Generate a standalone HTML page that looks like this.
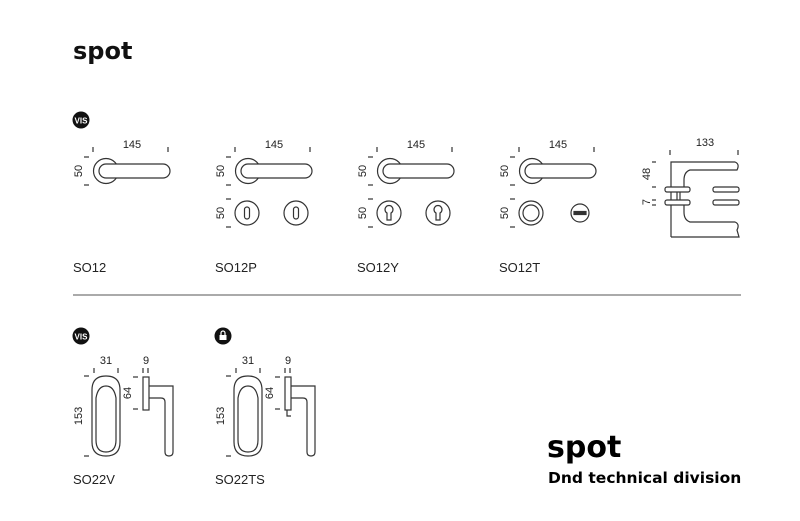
<!DOCTYPE html>
<html><head><meta charset="utf-8"><style>
body{margin:0;background:#fff;width:800px;height:521px;overflow:hidden}
svg{display:block}
text{font-family:"Liberation Sans",Arial,sans-serif;fill:#222}
</style></head><body>
<svg width="800" height="521" viewBox="0 0 800 521" xmlns="http://www.w3.org/2000/svg">
<defs>
<g id="lever" fill="none" stroke="#333" stroke-width="1.2">
  <circle cx="106" cy="171" r="12.5"/>
  <rect x="99" y="164" width="71" height="14" rx="7" fill="#fff"/>
  <line x1="93" y1="147" x2="93" y2="152"/><line x1="168" y1="147" x2="168" y2="152"/>
  <line x1="84" y1="157" x2="89" y2="157"/><line x1="84" y1="185" x2="89" y2="185"/>
</g>
<g id="ticks2" stroke="#333" stroke-width="1.2">
  <line x1="84" y1="199" x2="89" y2="199"/><line x1="84" y1="227" x2="89" y2="227"/>
</g>
<g id="win" fill="none" stroke="#333" stroke-width="1.2">
  <path d="M92,390 Q92,376 106,376 Q120,376 120,390 L120,442 Q120,456 106,456 Q92,456 92,442 Z"/>
  <path d="M96,398 Q98,386 106,386 Q114,386 116,398 L116,440 Q116,452 106,452 Q96,452 96,440 Z"/>
  <line x1="94" y1="368" x2="94" y2="373"/><line x1="118" y1="368" x2="118" y2="373"/>
  <line x1="84" y1="376" x2="89" y2="376"/><line x1="84" y1="456" x2="89" y2="456"/>
  <rect x="143" y="377" width="6" height="33"/>
  <path d="M149,386 L173,386 L173,452 Q173,456 169,456 Q165,456 165,452 L165,402 Q165,398 161,398 L149,398"/>
  <line x1="143" y1="368" x2="143" y2="373"/><line x1="148" y1="368" x2="148" y2="373"/>
  <line x1="133" y1="377" x2="138" y2="377"/><line x1="133" y1="409" x2="138" y2="409"/>
</g>
</defs>
<text x="73" y="59" font-size="24" font-weight="bold" style="font-family:'DejaVu Sans',sans-serif;fill:#111">spot</text>

<circle cx="81" cy="120" r="8.5" fill="#111"/><text x="81" y="123.5" font-size="8" font-weight="bold" text-anchor="middle" style="fill:#fff">VIS</text>

<!-- SO12 -->
<use href="#lever"/>
<text x="132" y="148" font-size="11" text-anchor="middle">145</text>
<text transform="translate(82,171) rotate(-90)" font-size="11" text-anchor="middle">50</text>
<text x="73" y="272" font-size="13">SO12</text>

<g transform="translate(142,0)">
<use href="#lever"/><use href="#ticks2"/>
<text x="132" y="148" font-size="11" text-anchor="middle">145</text>
<text transform="translate(82,171) rotate(-90)" font-size="11" text-anchor="middle">50</text>
<text transform="translate(82,213) rotate(-90)" font-size="11" text-anchor="middle">50</text>
<g fill="none" stroke="#333" stroke-width="1.2">
<circle cx="105" cy="213" r="12"/><rect x="102.5" y="207" width="5" height="12" rx="2.5"/>
<circle cx="154" cy="213" r="12"/><rect x="151.5" y="207" width="5" height="12" rx="2.5"/>
</g>
<text x="73" y="272" font-size="13">SO12P</text>
</g>

<g transform="translate(284,0)">
<use href="#lever"/><use href="#ticks2"/>
<text x="132" y="148" font-size="11" text-anchor="middle">145</text>
<text transform="translate(82,171) rotate(-90)" font-size="11" text-anchor="middle">50</text>
<text transform="translate(82,213) rotate(-90)" font-size="11" text-anchor="middle">50</text>
<g fill="none" stroke="#333" stroke-width="1.2">
<circle cx="105" cy="213" r="12"/><path d="M103,213 A4,4 0 1 1 107,213 L107,220 L103,220 Z"/>
<circle cx="154" cy="213" r="12"/><path d="M152,213 A4,4 0 1 1 156,213 L156,220 L152,220 Z"/>
</g>
<text x="73" y="272" font-size="13">SO12Y</text>
</g>

<g transform="translate(426,0)">
<use href="#lever"/><use href="#ticks2"/>
<text x="132" y="148" font-size="11" text-anchor="middle">145</text>
<text transform="translate(82,171) rotate(-90)" font-size="11" text-anchor="middle">50</text>
<text transform="translate(82,213) rotate(-90)" font-size="11" text-anchor="middle">50</text>
<g fill="none" stroke="#333" stroke-width="1.2">
<circle cx="105" cy="213" r="12"/><circle cx="105" cy="213" r="8"/>
<circle cx="154" cy="213" r="9"/><rect x="148" y="211.5" width="12" height="3" fill="#333"/>
</g>
<text x="73" y="272" font-size="13">SO12T</text>
</g>

<g fill="none" stroke="#333" stroke-width="1.2">
<line x1="670" y1="150" x2="670" y2="155"/><line x1="738" y1="150" x2="738" y2="155"/>
<path d="M671,237 L671,162 L735,162 Q740,164 737,170 L690,170 Q684,172 684,180 L684,187"/>
<path d="M684,205 L684,212 Q684,220 690,222 L735,222 Q740,224 737,230 L739,237 L671,237"/>
<rect x="665" y="187" width="25" height="5" rx="2" fill="#fff"/>
<rect x="665" y="200" width="25" height="5" rx="2" fill="#fff"/>
<line x1="677" y1="192" x2="677" y2="200"/><line x1="680" y1="192" x2="680" y2="200"/>
<rect x="713" y="187" width="26" height="5" rx="2"/>
<rect x="713" y="200" width="26" height="5" rx="2"/>
<line x1="652" y1="162" x2="656" y2="162"/><line x1="652" y1="187" x2="656" y2="187"/>
<line x1="652" y1="200" x2="656" y2="200"/><line x1="652" y1="205" x2="656" y2="205"/>
</g>
<text x="705" y="146" font-size="11" text-anchor="middle">133</text>
<text transform="translate(650,174) rotate(-90)" font-size="11" text-anchor="middle">48</text>
<text transform="translate(650,202) rotate(-90)" font-size="11" text-anchor="middle">7</text>

<line x1="73" y1="295" x2="741" y2="295" stroke="#555" stroke-width="1"/>

<circle cx="81" cy="336" r="8.5" fill="#111"/><text x="81" y="339.5" font-size="8" font-weight="bold" text-anchor="middle" style="fill:#fff">VIS</text>
<use href="#win"/>
<text x="106" y="364" font-size="11" text-anchor="middle">31</text>
<text x="146" y="364" font-size="11" text-anchor="middle">9</text>
<text transform="translate(82,416) rotate(-90)" font-size="11" text-anchor="middle">153</text>
<text transform="translate(131,393) rotate(-90)" font-size="11" text-anchor="middle">64</text>
<text x="73" y="484" font-size="13">SO22V</text>

<g transform="translate(142,0)">
<circle cx="81" cy="336" r="8.5" fill="#111"/>
<rect x="77.5" y="335" width="7" height="5" fill="#fff"/><path d="M79,335 V333 A2,2 0 0 1 83,333 V335" fill="none" stroke="#fff" stroke-width="1.2"/>
<use href="#win"/>
<path d="M145,410 L145,416 L149,416" fill="none" stroke="#333" stroke-width="1.2"/>
<text x="106" y="364" font-size="11" text-anchor="middle">31</text>
<text x="146" y="364" font-size="11" text-anchor="middle">9</text>
<text transform="translate(82,416) rotate(-90)" font-size="11" text-anchor="middle">153</text>
<text transform="translate(131,393) rotate(-90)" font-size="11" text-anchor="middle">64</text>
<text x="73" y="484" font-size="13">SO22TS</text>
</g>

<text x="547" y="457" font-size="30" font-weight="bold" style="font-family:'DejaVu Sans',sans-serif;fill:#000">spot</text>
<text x="548" y="483" font-size="15.5" font-weight="bold" style="font-family:'DejaVu Sans',sans-serif;fill:#000">Dnd technical division</text>
</svg>
</body></html>
